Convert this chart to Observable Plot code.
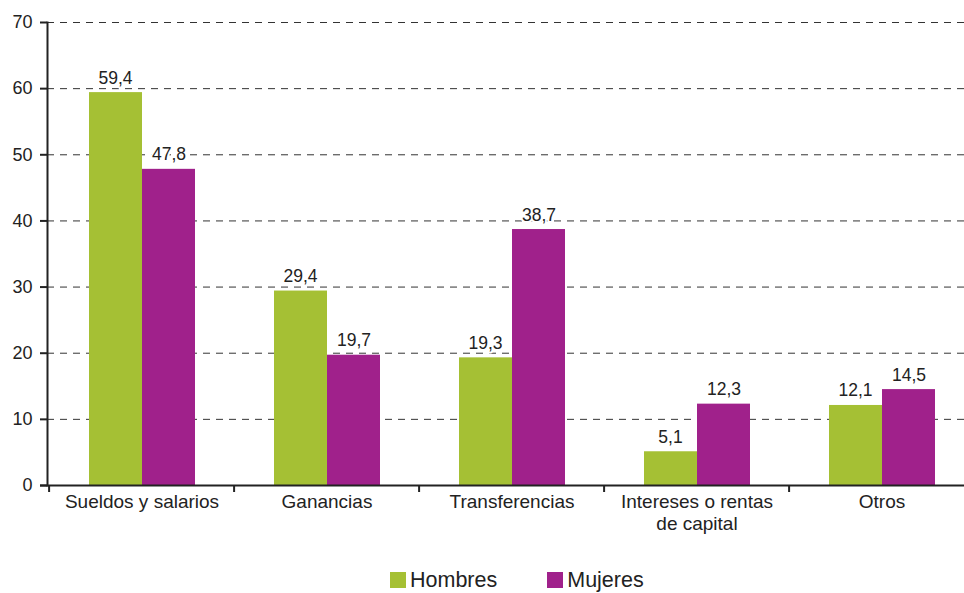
<!DOCTYPE html>
<html>
<head>
<meta charset="utf-8">
<script src="https://cdn.jsdelivr.net/npm/d3@7"></script>
<script src="https://cdn.jsdelivr.net/npm/@observablehq/plot@0.6"></script>
<style>
  html, body { margin: 0; padding: 0; background: #fff; }
  body { width: 964px; height: 593px; overflow: hidden; position: relative; font-family: "Liberation Sans", Arial, sans-serif; color: #222; }
  #legend { position: absolute; left: 390px; top: 570px; display: flex; align-items: flex-start; font-size: 21.5px; line-height: 21.5px; white-space: nowrap; }
  .item { display: flex; align-items: flex-start; }
  .sw { width: 16px; height: 16px; margin-top: 2px; margin-right: 4px; }
</style>
</head>
<body>
<div id="chart"></div>
<div id="legend"></div>
<script>
const categories = ["Sueldos y salarios", "Ganancias", "Transferencias", "Intereses o rentas de capital", "Otros"];
const tickLabels = ["Sueldos y salarios", "Ganancias", "Transferencias", "Intereses o rentas\nde capital", "Otros"];
const hombres = [59.4, 29.4, 19.3, 5.1, 12.1];
const mujeres = [47.8, 19.7, 38.7, 12.3, 14.5];
const seriesNames = ["Hombres", "Mujeres"];
const seriesColors = ["#a5c034", "#a0218b"];
const yTicks = [0, 10, 20, 30, 40, 50, 60, 70];

const fmt = v => v.toFixed(1).replace(".", ",");
const rowsH = categories.map((c, i) => ({cat: c, value: hombres[i]}));
const rowsM = categories.map((c, i) => ({cat: c, value: mujeres[i]}));
const labelOf = new Map(categories.map((c, i) => [c, tickLabels[i]]));

const W = 964, H = 560, ML = 47, XEND = 976;
const step = (XEND - ML) / categories.length;

const chart = Plot.plot({
  width: W, height: H,
  marginTop: 22, marginBottom: 75, marginLeft: ML, marginRight: 0,
  style: {fontFamily: "'Liberation Sans', Arial, sans-serif", color: "#222", background: "#fff", overflow: "visible"},
  x: {type: "band", domain: categories, range: [ML, XEND], padding: 0, label: null},
  y: {domain: [0, 70], label: null},
  marks: [
    Plot.gridY(yTicks, {stroke: "#333", strokeOpacity: 1, strokeDasharray: "7,6"}),
    Plot.barY(rowsH, {x: "cat", y: "value", fill: seriesColors[0], insetLeft: 40, insetRight: 92}),
    Plot.barY(rowsM, {x: "cat", y: "value", fill: seriesColors[1], insetLeft: 93, insetRight: 39}),
    Plot.text(rowsH, {x: "cat", y: "value", text: d => fmt(d.value), dx: -26.5, dy: -9, lineAnchor: "bottom", fontSize: 17.5, fill: "#222", stroke: "#fff", strokeWidth: 4}),
    Plot.text(rowsM, {x: "cat", y: "value", text: d => fmt(d.value), dx: 27, dy: -9, lineAnchor: "bottom", fontSize: 17.5, fill: "#222", stroke: "#fff", strokeWidth: 4}),
    Plot.ruleY([0], {stroke: "#222", strokeWidth: 2, insetLeft: -7}),
    Plot.frame({anchor: "left", stroke: "#222", strokeWidth: 2}),
    Plot.ruleX(categories, {x: d => d, y1: 0, y2: 0, insetBottom: -7, dx: -step / 2, stroke: "#222", strokeWidth: 2}),
    Plot.axisY({ticks: yTicks, tickSize: 7, tickPadding: 8, fontSize: 18, stroke: "#222", strokeWidth: 2, tickFormat: d => String(d), label: null}),
    Plot.axisX({tickSize: 0, tickPadding: 7, fontSize: 19, lineHeight: 1.15, tickFormat: d => labelOf.get(d), label: null})
  ]
});
document.getElementById("chart").appendChild(chart);

const legend = document.getElementById("legend");
seriesNames.forEach((name, i) => {
  const item = document.createElement("div");
  item.className = "item";
  if (i > 0) item.style.marginLeft = "50px";
  const sw = document.createElement("span");
  sw.className = "sw";
  sw.style.background = seriesColors[i];
  const t = document.createElement("span");
  t.textContent = name;
  item.appendChild(sw);
  item.appendChild(t);
  legend.appendChild(item);
});
</script>
</body>
</html>
